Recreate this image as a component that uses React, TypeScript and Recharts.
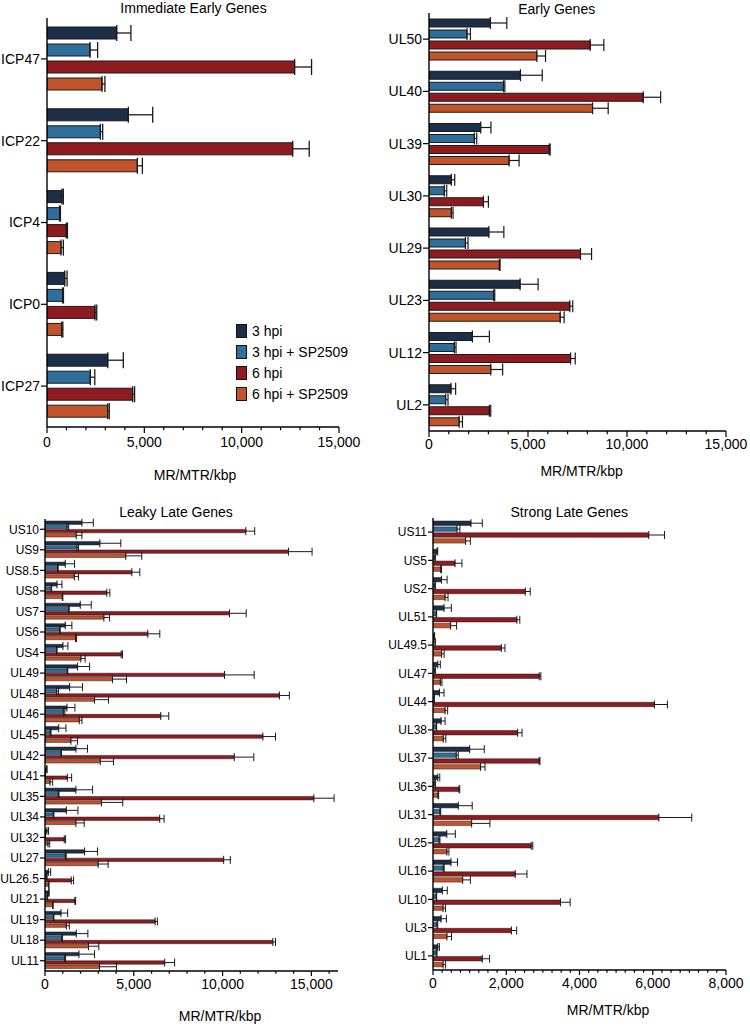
import React from 'react';
import { BarChart, Bar, XAxis, YAxis, ErrorBar, Legend } from 'recharts';

const SERIES_NAMES = ['3 hpi', '3 hpi + SP2509', '6 hpi', '6 hpi + SP2509'];
const SERIES_COLORS = ['#1c2f47', '#2e6e9a', '#8e1b20', '#c1542a'];

// Immediate Early Genes
const ieGenes = ['ICP47', 'ICP22', 'ICP4', 'ICP0', 'ICP27'];
const ie3 = [3580, 4180, 770, 910, 3120];
const ie3Err = [730, 1250, 70, 120, 800];
const ie3sp = [2210, 2740, 650, 805, 2225];
const ie3spErr = [390, 120, 40, 40, 230];
const ie6 = [12720, 12620, 990, 2465, 4400];
const ie6Err = [870, 850, 60, 90, 100];
const ie6sp = [2825, 4640, 720, 755, 3120];
const ie6spErr = [150, 260, 120, 60, 80];

// Early Genes
const eGenes = ['UL50', 'UL40', 'UL39', 'UL30', 'UL29', 'UL23', 'UL12', 'UL2'];
const e3 = [3100, 4620, 2610, 1130, 3020, 4600, 2190, 1110];
const e3Err = [830, 1100, 520, 170, 760, 910, 860, 235];
const e3sp = [1920, 3760, 2290, 775, 1840, 3270, 1280, 840];
const e3spErr = [170, 70, 120, 120, 130, 50, 85, 120];
const e6 = [8140, 10820, 6070, 2750, 7650, 7110, 7150, 3050];
const e6Err = [690, 880, 50, 250, 560, 150, 235, 70];
const e6sp = [5445, 8260, 4045, 1130, 3555, 6625, 3120, 1520];
const e6spErr = [440, 790, 505, 85, 35, 200, 600, 170];

// Leaky Late Genes
const llGenes = ['US10', 'US9', 'US8.5', 'US8', 'US7', 'US6', 'US4', 'UL49', 'UL48', 'UL46', 'UL45', 'UL42', 'UL41', 'UL35', 'UL34', 'UL32', 'UL27', 'UL26.5', 'UL21', 'UL19', 'UL18', 'UL11'];
const ll3 = [2080, 3090, 1140, 675, 1985, 1140, 1010, 1835, 1385, 1235, 770, 1740, 95, 1740, 1200, 110, 2230, 190, 205, 900, 1760, 1910];
const ll3Err = [640, 1180, 520, 280, 620, 375, 280, 675, 730, 450, 410, 655, 20, 940, 655, 90, 730, 130, 30, 375, 655, 880];
const ll3sp = [1240, 1800, 710, 355, 1330, 825, 655, 1255, 655, 1030, 300, 900, 20, 750, 470, 20, 1140, 95, 130, 470, 955, 1105];
const ll3spErr = [90, 90, 30, 20, 30, 30, 20, 30, 110, 90, 40, 30, 10, 40, 30, 10, 55, 20, 20, 30, 30, 55];
const ll6 = [11310, 13710, 4890, 3480, 10390, 5790, 4290, 10110, 13200, 6520, 12270, 10660, 1255, 15140, 6460, 1085, 10060, 1480, 1685, 6200, 12830, 6740];
const ll6Err = [500, 1330, 450, 170, 940, 675, 75, 1670, 560, 450, 710, 1100, 245, 1140, 245, 75, 375, 130, 40, 130, 150, 560];
const ll6sp = [1760, 4550, 1650, 975, 3315, 1720, 2020, 3800, 2790, 1930, 1460, 3110, 280, 3180, 1740, 170, 2995, 190, 430, 1200, 2450, 3070];
const ll6spErr = [320, 900, 240, 30, 320, 60, 240, 790, 790, 150, 375, 750, 150, 1200, 470, 95, 560, 40, 30, 170, 580, 955];

// Strong Late Genes
const slGenes = ['US11', 'US5', 'US2', 'UL51', 'UL49.5', 'UL47', 'UL44', 'UL38', 'UL37', 'UL36', 'UL31', 'UL25', 'UL16', 'UL10', 'UL3', 'UL1'];
const sl3 = [1036, 110, 230, 300, 35, 130, 175, 220, 1000, 130, 690, 375, 490, 255, 220, 130];
const sl3Err = [310, 20, 155, 200, 10, 70, 125, 110, 400, 55, 380, 235, 180, 135, 145, 45];
const sl3sp = [655, 55, 55, 90, 25, 55, 25, 90, 635, 55, 190, 165, 280, 90, 110, 90];
const sl3spErr = [80, 10, 10, 10, 40, 10, 10, 10, 55, 10, 20, 25, 25, 10, 20, 20];
const sl6 = [5890, 600, 2520, 2290, 1865, 2900, 6045, 2310, 2900, 710, 6165, 2680, 2245, 3480, 2140, 1345];
const sl6Err = [430, 190, 135, 80, 100, 45, 355, 120, 20, 20, 900, 45, 320, 265, 145, 200];
const sl6sp = [890, 210, 330, 480, 235, 200, 330, 280, 1300, 135, 1055, 380, 810, 275, 380, 275];
const sl6spErr = [130, 20, 80, 165, 70, 45, 70, 70, 120, 20, 500, 55, 210, 65, 125, 70];

// Tick labels
const ticks15k = [0, 5000, 10000, 15000];
const ticks8k = [0, 2000, 4000, 6000, 8000];

const FONT = '"Liberation Sans", Arial, Helvetica, sans-serif';
const fmt = (v: number) => v.toLocaleString('en-US');

function buildRows(genes: string[], vals: number[][], errs: number[][]) {
  return genes.map((g, i) => ({
    name: g,
    s0: vals[0][i], e0: [0, errs[0][i]],
    s1: vals[1][i], e1: [0, errs[1][i]],
    s2: vals[2][i], e2: [0, errs[2][i]],
    s3: vals[3][i], e3: [0, errs[3][i]],
  }));
}

function stepTicks(max: number, step: number) {
  const out: number[] = [];
  for (let v = 0; v <= max + 0.001; v += step) out.push(v);
  return out;
}

const makeXTick = (major: number[], T: number, M: number, fs: number) => (props: any) => {
  const { x, y, payload } = props;
  const axisY = y - T - M;
  const isMajor = major.includes(payload.value);
  return (
    <g>
      <line x1={x} x2={x} y1={axisY} y2={axisY + (isMajor ? T : T * 0.55)} stroke="#000" strokeWidth={1.2} />
      {isMajor && (
        <text x={x} y={axisY + T + M} dy="0.71em" textAnchor="middle" fontSize={fs} fill="#000">
          {fmt(payload.value)}
        </text>
      )}
    </g>
  );
};

const LegendContent = (props: any) => {
  const payload = props.payload || [];
  return (
    <div style={{ fontFamily: FONT }}>
      {payload.map((p: any, i: number) => (
        <div key={i} style={{ display: 'flex', alignItems: 'center', height: 20.8 }}>
          <div style={{ width: 9, height: 12, background: p.color, border: '1.5px solid #111', marginRight: 5 }} />
          <span style={{ fontSize: 14, color: '#000', lineHeight: '16px' }}>{p.value}</span>
        </div>
      ))}
    </div>
  );
};

interface PanelProps {
  left: number; top: number; width: number; height: number;
  marginTop: number; marginRight: number;
  yAxisWidth: number; xAxisHeight: number;
  domainMax: number; allTicks: number[]; majorTicks: number[];
  xTickSize: number; xTickMargin: number;
  yFont: number; yTickSize: number;
  barSize: number; barGap: number; cap: number; barStroke: number; errStroke: number;
  rows: any[]; legend?: boolean;
}

function Panel(p: PanelProps) {
  return (
    <div style={{ position: 'absolute', left: p.left, top: p.top, width: p.width, height: p.height }}>
      <BarChart
        width={p.width}
        height={p.height}
        data={p.rows}
        layout="vertical"
        margin={{ top: p.marginTop, right: p.marginRight, bottom: 0, left: 0 }}
        barSize={p.barSize}
        barGap={p.barGap}
      >
        <XAxis
          type="number"
          domain={[0, p.domainMax]}
          ticks={p.allTicks}
          interval={0}
          height={p.xAxisHeight}
          tickLine={false}
          tickSize={p.xTickSize}
          tickMargin={p.xTickMargin}
          tick={makeXTick(p.majorTicks, p.xTickSize, p.xTickMargin, 14)}
          axisLine={{ stroke: '#000', strokeWidth: 1.4 }}
          allowDataOverflow
        />
        <YAxis
          type="category"
          dataKey="name"
          width={p.yAxisWidth}
          interval={0}
          tickSize={p.yTickSize}
          tickMargin={1}
          tick={{ fontSize: p.yFont, fill: '#000' }}
          tickLine={{ stroke: '#000', strokeWidth: 1.2 }}
          axisLine={{ stroke: '#000', strokeWidth: 1.4 }}
        />
        {SERIES_NAMES.map((n, i) => (
          <Bar
            key={n}
            dataKey={`s${i}`}
            name={n}
            fill={SERIES_COLORS[i]}
            stroke="#1a1a1a"
            strokeWidth={p.barStroke}
            isAnimationActive={false}
          >
            <ErrorBar dataKey={`e${i}`} direction="x" width={p.cap} stroke="#1a1a1a" strokeWidth={p.errStroke} />
          </Bar>
        ))}
        {p.legend && (
          <Legend
            layout="vertical"
            align="center"
            verticalAlign="middle"
            content={<LegendContent />}
            wrapperStyle={{ left: 236, top: 321, width: 130, height: 84 }}
          />
        )}
      </BarChart>
    </div>
  );
}

function TextAt({ x, y, text }: { x: number; y: number; text: string }) {
  return (
    <div style={{ position: 'absolute', left: x - 150, top: y - 8.5, width: 300, height: 17, lineHeight: '17px', textAlign: 'center', fontSize: 14, color: '#000', whiteSpace: 'nowrap' }}>
      {text}
    </div>
  );
}

export default function App() {
  const ieRows = buildRows(ieGenes, [ie3, ie3sp, ie6, ie6sp], [ie3Err, ie3spErr, ie6Err, ie6spErr]);
  const eRows = buildRows(eGenes, [e3, e3sp, e6, e6sp], [e3Err, e3spErr, e6Err, e6spErr]);
  const llRows = buildRows(llGenes, [ll3, ll3sp, ll6, ll6sp], [ll3Err, ll3spErr, ll6Err, ll6spErr]);
  const slRows = buildRows(slGenes, [sl3, sl3sp, sl6, sl6sp], [sl3Err, sl3spErr, sl6Err, sl6spErr]);

  return (
    <div style={{ position: 'absolute', left: 0, top: 0, width: 750, height: 1027, background: '#fff', fontFamily: FONT }}>
      <Panel
        left={0} top={0} width={375} height={490}
        marginTop={18} marginRight={36} yAxisWidth={47} xAxisHeight={63}
        domainMax={15000} allTicks={stepTicks(15000, 1000)} majorTicks={ticks15k}
        xTickSize={6} xTickMargin={4} yFont={14} yTickSize={6}
        barSize={12} barGap={5} cap={8} barStroke={1} errStroke={1.3}
        rows={ieRows} legend
      />
      <Panel
        left={375} top={0} width={375} height={490}
        marginTop={13} marginRight={24} yAxisWidth={54} xAxisHeight={59}
        domainMax={15000} allTicks={stepTicks(15000, 1000)} majorTicks={ticks15k}
        xTickSize={6} xTickMargin={2} yFont={14} yTickSize={6}
        barSize={8} barGap={3} cap={6} barStroke={1} errStroke={1.2}
        rows={eRows}
      />
      <Panel
        left={0} top={500} width={375} height={527}
        marginTop={19} marginRight={37} yAxisWidth={45} xAxisHeight={56}
        domainMax={16500} allTicks={stepTicks(16000, 1000)} majorTicks={ticks15k}
        xTickSize={5} xTickMargin={3} yFont={12} yTickSize={5}
        barSize={3.4} barGap={0.8} cap={4} barStroke={0.5} errStroke={1}
        rows={llRows}
      />
      <Panel
        left={375} top={500} width={375} height={527}
        marginTop={18} marginRight={24} yAxisWidth={58} xAxisHeight={57}
        domainMax={8000} allTicks={stepTicks(8000, 250)} majorTicks={ticks8k}
        xTickSize={5} xTickMargin={3} yFont={12} yTickSize={5}
        barSize={4.4} barGap={1.5} cap={4} barStroke={0.5} errStroke={1}
        rows={slRows}
      />
      <TextAt x={193.5} y={8.5} text="Immediate Early Genes" />
      <TextAt x={556.7} y={9} text="Early Genes" />
      <TextAt x={176} y={512.3} text="Leaky Late Genes" />
      <TextAt x={569.3} y={512.3} text="Strong Late Genes" />
      <TextAt x={195} y={475} text="MR/MTR/kbp" />
      <TextAt x={581.7} y={471} text="MR/MTR/kbp" />
      <TextAt x={220} y={1016.7} text="MR/MTR/kbp" />
      <TextAt x={608} y={1010} text="MR/MTR/kbp" />
    </div>
  );
}
